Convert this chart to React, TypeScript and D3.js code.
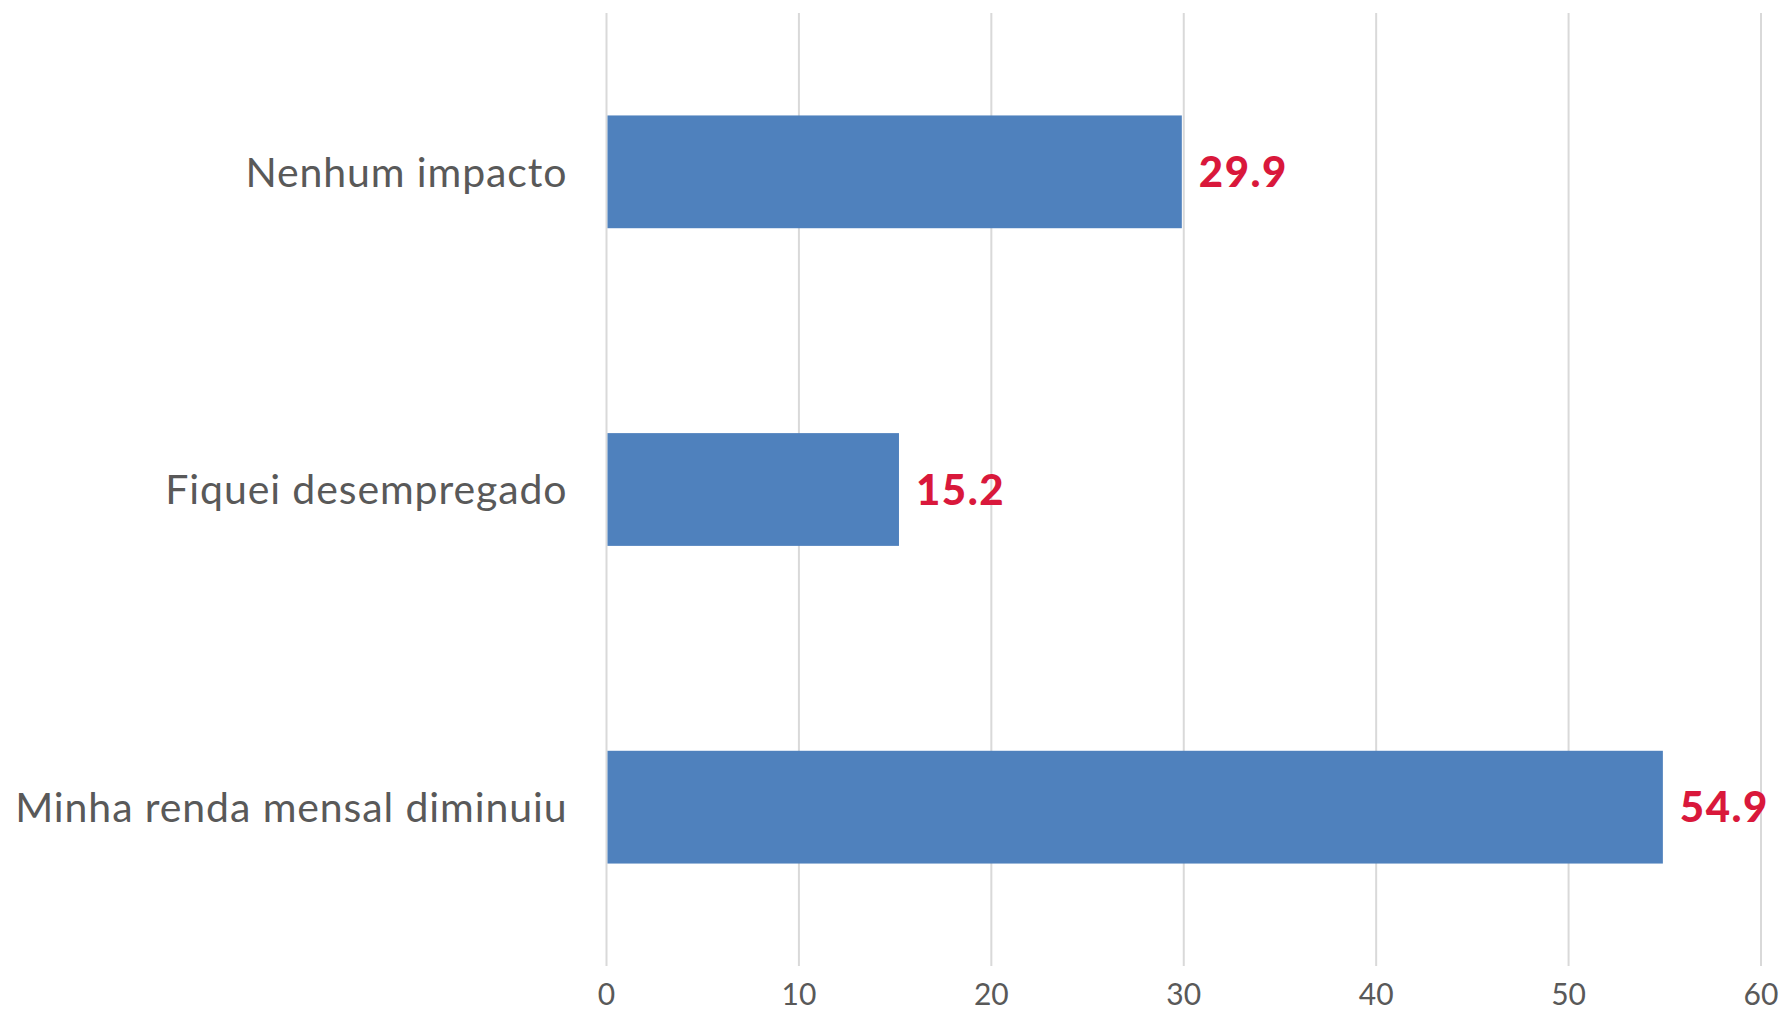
import React, { useRef, useEffect } from 'react';
import * as d3 from 'd3';

const categories: string[] = ['Nenhum impacto', 'Fiquei desempregado', 'Minha renda mensal diminuiu'];
const values: number[] = [29.9, 15.2, 54.9];
const xTicks: number[] = [0, 10, 20, 30, 40, 50, 60];

const App: React.FC = () => {
  const svgRef = useRef<SVGSVGElement | null>(null);

  useEffect(() => {
    if (!svgRef.current) return;

    const svg = d3.select(svgRef.current);
    svg.selectAll('*').remove();

    const width = 1786;
    const height = 1016;
    const margin = { top: 13, right: 25, bottom: 50, left: 606.5 };
    const font = "Lato, 'Noto Sans', sans-serif";

    svg.attr('viewBox', `0 0 ${width} ${height}`);

    const x = d3.scaleLinear()
      .domain([0, 60])
      .range([margin.left, width - margin.right]);

    const y = d3.scaleBand()
      .domain(categories)
      .range([margin.top, height - margin.bottom])
      .paddingInner(0.645)
      .paddingOuter(0.3225);

    // gridlines
    svg.append('g')
      .selectAll('line')
      .data(xTicks)
      .enter()
      .append('line')
      .attr('x1', d => x(d))
      .attr('x2', d => x(d))
      .attr('y1', margin.top)
      .attr('y2', height - margin.bottom)
      .attr('stroke', '#d9d9d9')
      .attr('stroke-width', 2);

    const rows = categories.map((c, i) => ({ c, v: values[i] }));

    // bars
    svg.append('g')
      .selectAll('rect')
      .data(rows)
      .enter()
      .append('rect')
      .attr('x', x(0) + 1)
      .attr('y', d => y(d.c)!)
      .attr('width', d => x(d.v) - x(0) - 1)
      .attr('height', y.bandwidth())
      .attr('fill', '#4f81bd');

    // value labels
    svg.append('g')
      .selectAll('text')
      .data(rows)
      .enter()
      .append('text')
      .attr('x', d => x(d.v) + 17)
      .attr('y', d => y(d.c)! + y.bandwidth() / 2)
      .attr('dy', '0.36em')
      .attr('font-family', font)
      .attr('font-weight', 900)
      .attr('font-size', 42)
      .attr('letter-spacing', 1.5)
      .attr('fill', '#d9183b')
      .text(d => d.v.toFixed(1));

    // category labels
    svg.append('g')
      .selectAll('text')
      .data(rows)
      .enter()
      .append('text')
      .attr('x', margin.left - 39)
      .attr('y', d => y(d.c)! + y.bandwidth() / 2)
      .attr('dy', '0.36em')
      .attr('text-anchor', 'end')
      .attr('font-family', font)
      .attr('font-size', 41)
      .attr('letter-spacing', 0.9)
      .attr('fill', '#595959')
      .text(d => d.c);

    // x tick labels
    svg.append('g')
      .selectAll('text')
      .data(xTicks)
      .enter()
      .append('text')
      .attr('x', d => x(d))
      .attr('y', 1005)
      .attr('text-anchor', 'middle')
      .attr('font-family', font)
      .attr('font-size', 30)
      .attr('fill', '#595959')
      .text(d => String(d));
  }, []);

  return (
    <svg
      ref={svgRef}
      width={1786}
      height={1016}
      style={{ position: 'absolute', left: 0, top: 0, background: '#fff' }}
    />
  );
};

export default App;
